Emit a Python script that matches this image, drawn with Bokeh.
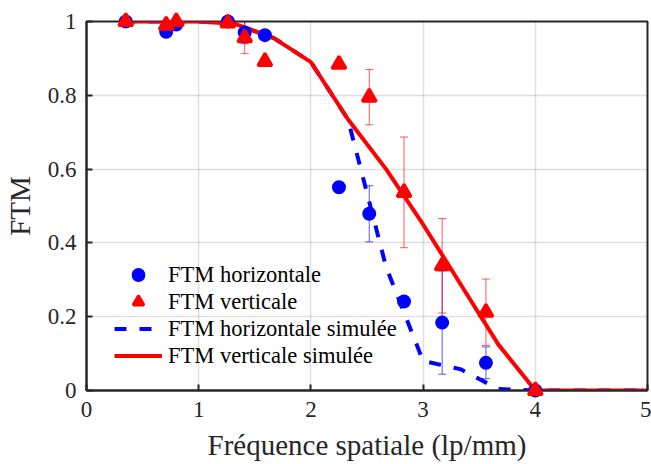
from bokeh.plotting import figure
from bokeh.models import (ColumnDataSource, Whisker, TeeHead, FixedTicker,
                          Legend, LegendItem, Range1d)
from bokeh.embed import file_html
from bokeh.resources import INLINE

# ---- data ----
freq = [0.35, 0.71, 0.80, 1.26, 1.41, 1.59, 2.25, 2.52, 2.83, 3.17, 3.56, 4.00]
ftm_h = [1.00, 0.972, 0.992, 1.00, 0.97, 0.963, 0.551, 0.479, 0.241, 0.184, 0.075, 0.0]
err_h = [0, 0, 0, 0, 0.03, 0, 0, 0.076, 0, 0.14, 0.043, 0]
ftm_v = [1.00, 0.99, 1.00, 0.996, 0.956, 0.892, 0.884, 0.795, 0.537, 0.338, 0.212, 0.0]
err_v = [0, 0, 0, 0, 0.043, 0, 0, 0.075, 0.15, 0.128, 0.09, 0]

sim_f = [0.33, 0.67, 1.0, 1.33, 1.67, 2.0, 2.33, 2.67, 3.0, 3.33, 3.67, 4.0, 4.33, 4.67, 5.0]
sim_h = [1.0, 1.0, 1.0, 0.993, 0.955, 0.89, 0.735, 0.335, 0.08, 0.058, 0.004, 0.0, 0.0, 0.0, 0.0]
sim_v = [1.0, 1.0, 1.0, 0.993, 0.955, 0.89, 0.735, 0.60, 0.45, 0.29, 0.125, 0.0, 0.0, 0.0, 0.0]

x_ticks = [0, 1, 2, 3, 4, 5]
x_tick_labels = ["0", "1", "2", "3", "4", "5"]
y_ticks = [0, 0.2, 0.4, 0.6, 0.8, 1.0]
y_tick_labels = ["0", "0.2", "0.4", "0.6", "0.8", "1"]

labels = ["FTM horizontale", "FTM verticale", "FTM horizontale simulée", "FTM verticale simulée"]

FONT = "Liberation Serif"
AX = "#262626"

p = figure(width=651, height=464, x_range=Range1d(0, 5), y_range=Range1d(0, 1),
           output_backend="svg", toolbar_location=None,
           min_border_left=86, min_border_right=4, min_border_top=21, min_border_bottom=74)
p.background_fill_color = "white"
p.border_fill_color = "white"
p.outline_line_color = AX
p.outline_line_width = 2

for ax, ticks, labs in ((p.xaxis[0], x_ticks, x_tick_labels), (p.yaxis[0], y_ticks, y_tick_labels)):
    ax.ticker = FixedTicker(ticks=ticks)
    ax.major_label_overrides = dict(zip(ticks, labs))
    ax.major_label_text_font = FONT
    ax.major_label_text_font_size = "23px"
    ax.major_label_text_color = AX
    ax.axis_label_text_font = FONT
    ax.axis_label_text_font_size = "29px"
    ax.axis_label_text_font_style = "normal"
    ax.axis_label_text_color = AX
    ax.axis_line_color = AX
    ax.axis_line_width = 2
    ax.major_tick_line_color = AX
    ax.major_tick_line_width = 2
    ax.major_tick_in = 6
    ax.major_tick_out = 0
    ax.minor_tick_line_color = None

p.xaxis[0].axis_label = "Fréquence spatiale (lp/mm)"
p.xaxis[0].major_label_standoff = 11
p.xaxis[0].axis_label_standoff = 9
p.yaxis[0].axis_label = "FTM"
p.yaxis[0].major_label_standoff = 10
p.yaxis[0].axis_label_standoff = 9

p.xgrid.ticker = FixedTicker(ticks=x_ticks)
p.ygrid.ticker = FixedTicker(ticks=y_ticks)
for g in (p.xgrid, p.ygrid):
    g.grid_line_color = AX
    g.grid_line_alpha = 0.15
    g.grid_line_width = 1.5

# error bars
def whisker(xs, ys, es, color):
    bx = [x for x, e in zip(xs, es) if e > 0]
    up = [y + e for y, e in zip(ys, es) if e > 0]
    lo = [y - e for y, e in zip(ys, es) if e > 0]
    src = ColumnDataSource(dict(base=bx, upper=up, lower=lo))
    w = Whisker(source=src, base="base", upper="upper", lower="lower",
                line_color=color, line_alpha=0.65, line_width=1,
                upper_head=TeeHead(size=8, line_color=color, line_alpha=0.65, line_width=1),
                lower_head=TeeHead(size=8, line_color=color, line_alpha=0.65, line_width=1))
    w.level = "glyph"
    p.add_layout(w)

whisker(freq, ftm_h, err_h, "blue")
whisker(freq, ftm_v, err_v, "red")

r_h = p.scatter(freq, ftm_h, marker="circle", size=11, fill_color="blue", line_color="blue",
                line_width=3)
r_v = p.scatter(freq, ftm_v, marker="triangle", size=14, fill_color="red", line_color="red",
                line_width=3)
r_sh = p.line(sim_f, sim_h, line_color="blue", line_width=4, line_dash="12 13")
r_sv = p.line(sim_f, sim_v, line_color="red", line_width=4)
for r in (r_h, r_v):
    r.level = "overlay"

legend = Legend(items=[LegendItem(label=labels[0], renderers=[r_h]),
                       LegendItem(label=labels[1], renderers=[r_v]),
                       LegendItem(label=labels[2], renderers=[r_sh]),
                       LegendItem(label=labels[3], renderers=[r_sv])],
                location=(28, 21), border_line_color=None, background_fill_alpha=0,
                padding=0, margin=0, spacing=0, glyph_width=48, glyph_height=27,
                label_height=27, label_standoff=6, label_text_font=FONT,
                label_text_font_size="22.5px", label_text_color="black")
p.add_layout(legend)

open("out.html", "w").write(file_html(p, INLINE))
